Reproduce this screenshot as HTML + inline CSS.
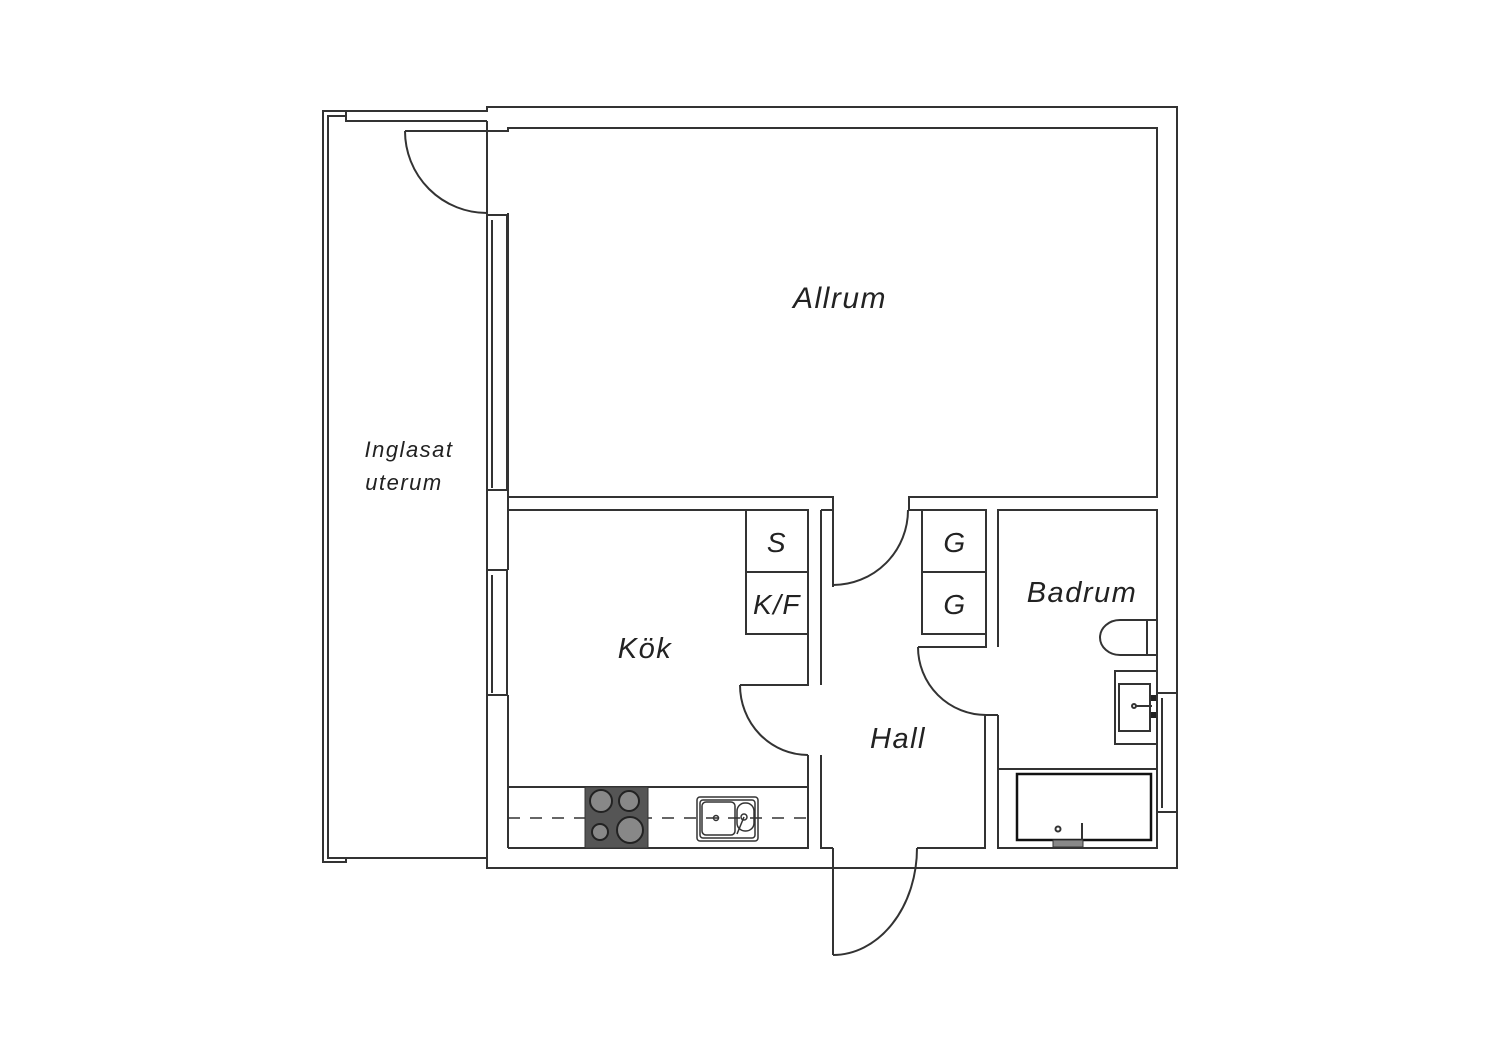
<!DOCTYPE html>
<html><head><meta charset="utf-8"><style>
html,body{margin:0;padding:0;background:#fff;}
svg{display:block;}
text{font-family:"Liberation Sans",sans-serif;font-style:italic;fill:#222;text-anchor:middle;letter-spacing:1.5px;font-weight:300;}
</style></head><body>
<svg width="1500" height="1060" viewBox="0 0 1500 1060" xmlns="http://www.w3.org/2000/svg">
<g fill="none" stroke="#333" stroke-width="2">
<polyline points="487,121 346,121 346,111 323,111 323,862 346,862 346,858 487,858"/>
<polyline points="346,116 328,116 328,858 346,858"/>
<polyline points="346,111 487,111 487,107 1177,107 1177,868 487,868 487,862"/>
<line x1="487" y1="121" x2="487" y2="862"/>
<polyline points="405,131 508,131 508,128 1157,128 1157,497 909,497 909,510 986,510 986,647 918,647"/>
<polyline points="508,213 508,497 833,497 833,587"/>
<path d="M405,131 A82,82 0 0 0 487,213"/>
<path d="M833,585 A75,75 0 0 0 908,510"/>
<rect x="487" y="215" width="20" height="275"/>
<polyline points="492,220 492,488 M497,220 497,488 M502,220 502,488 M492,220 502,220"/>
<rect x="487" y="570" width="20" height="125"/>
<polyline points="492,575 492,693 M497,575 497,693 M502,575 502,693 M492,575 502,575"/>
<line x1="508" y1="490" x2="508" y2="570"/>
<line x1="508" y1="695" x2="508" y2="848"/>
<polyline points="508,510 808,510 808,685 740,685"/>
<path d="M740,685 A68,70 0 0 0 808,755"/>
<polyline points="808,755 808,848 508,848"/>
<polyline points="821,510 833,510"/>
<line x1="821" y1="510" x2="821" y2="685"/>
<polyline points="821,755 821,848 833,848"/>
<rect x="746" y="510" width="62" height="62"/>
<rect x="746" y="572" width="62" height="62"/>
<rect x="922" y="510" width="64" height="62"/>
<rect x="922" y="572" width="64" height="62"/>
<line x1="508" y1="787" x2="808" y2="787"/>
<line x1="508" y1="818" x2="808" y2="818" stroke-dasharray="12,10" stroke-width="1.5"/>
<line x1="833" y1="848" x2="833" y2="955"/>
<path d="M833,955 A84,107 0 0 0 917,848"/>
<polyline points="917,848 985,848 985,715"/>
<path d="M918,647 A68,68 0 0 0 986,715"/>
<polyline points="998,647 998,510 1157,510 1157,848 998,848 998,715"/>
<line x1="998" y1="715" x2="998" y2="848"/>
<line x1="985" y1="715" x2="998" y2="715"/>
<line x1="998" y1="769" x2="1157" y2="769"/>
<rect x="1017" y="774" width="134" height="66" stroke="#111" stroke-width="2.5"/>
<rect x="1115" y="671" width="42" height="73"/>
<rect x="1119" y="684" width="31" height="47"/>
<path d="M1157,620 L1120,620 A20,17.5 0 0 0 1120,655 L1157,655 M1147,620 L1147,655"/>
<rect x="1157" y="693" width="20" height="119"/>
<polyline points="1162,698 1162,808 M1167,698 1167,808 M1172,698 1172,808"/>
<line x1="1082" y1="823" x2="1082" y2="848"/>
<circle cx="1058" cy="829" r="2.5"/>
<line x1="1132" y1="706" x2="1152" y2="706"/>
<circle cx="1134" cy="706" r="2" fill="#fff"/>
</g>
<rect x="1151" y="695" width="5" height="6" fill="#222"/>
<rect x="1151" y="712" width="5" height="6" fill="#222"/>
<rect x="1053" y="840" width="30" height="7" fill="#888" stroke="#333"/>
<rect x="585" y="787" width="63" height="61" fill="#555" stroke="#333"/>
<g stroke="#222" stroke-width="2" fill="#888">
<circle cx="601" cy="801" r="11"/><circle cx="629" cy="801" r="10"/>
<circle cx="600" cy="832" r="8"/><circle cx="630" cy="830" r="13"/>
</g>
<g fill="none" stroke="#333" stroke-width="1.5">
<rect x="697" y="797" width="61" height="44" rx="3"/>
<rect x="700" y="800" width="55" height="38" rx="3"/>
<rect x="702" y="802" width="33" height="33" rx="4"/>
<rect x="737" y="803" width="17" height="28" rx="8"/>
<circle cx="716" cy="818" r="2.5"/><circle cx="744" cy="817" r="3"/>
<line x1="744" y1="817" x2="737" y2="834"/>
</g>
<text x="840" y="308" font-size="30">Allrum</text>
<text x="409" y="457" font-size="22">Inglasat</text>
<text x="404" y="490" font-size="22">uterum</text>
<text x="645" y="658" font-size="29">Kök</text>
<text x="898" y="748" font-size="29">Hall</text>
<text x="1082" y="602" font-size="29">Badrum</text>
<text x="777" y="552" font-size="28">S</text>
<text x="777" y="614" font-size="28">K/F</text>
<text x="955" y="552" font-size="28">G</text>
<text x="955" y="614" font-size="28">G</text>
</svg>
</body></html>
